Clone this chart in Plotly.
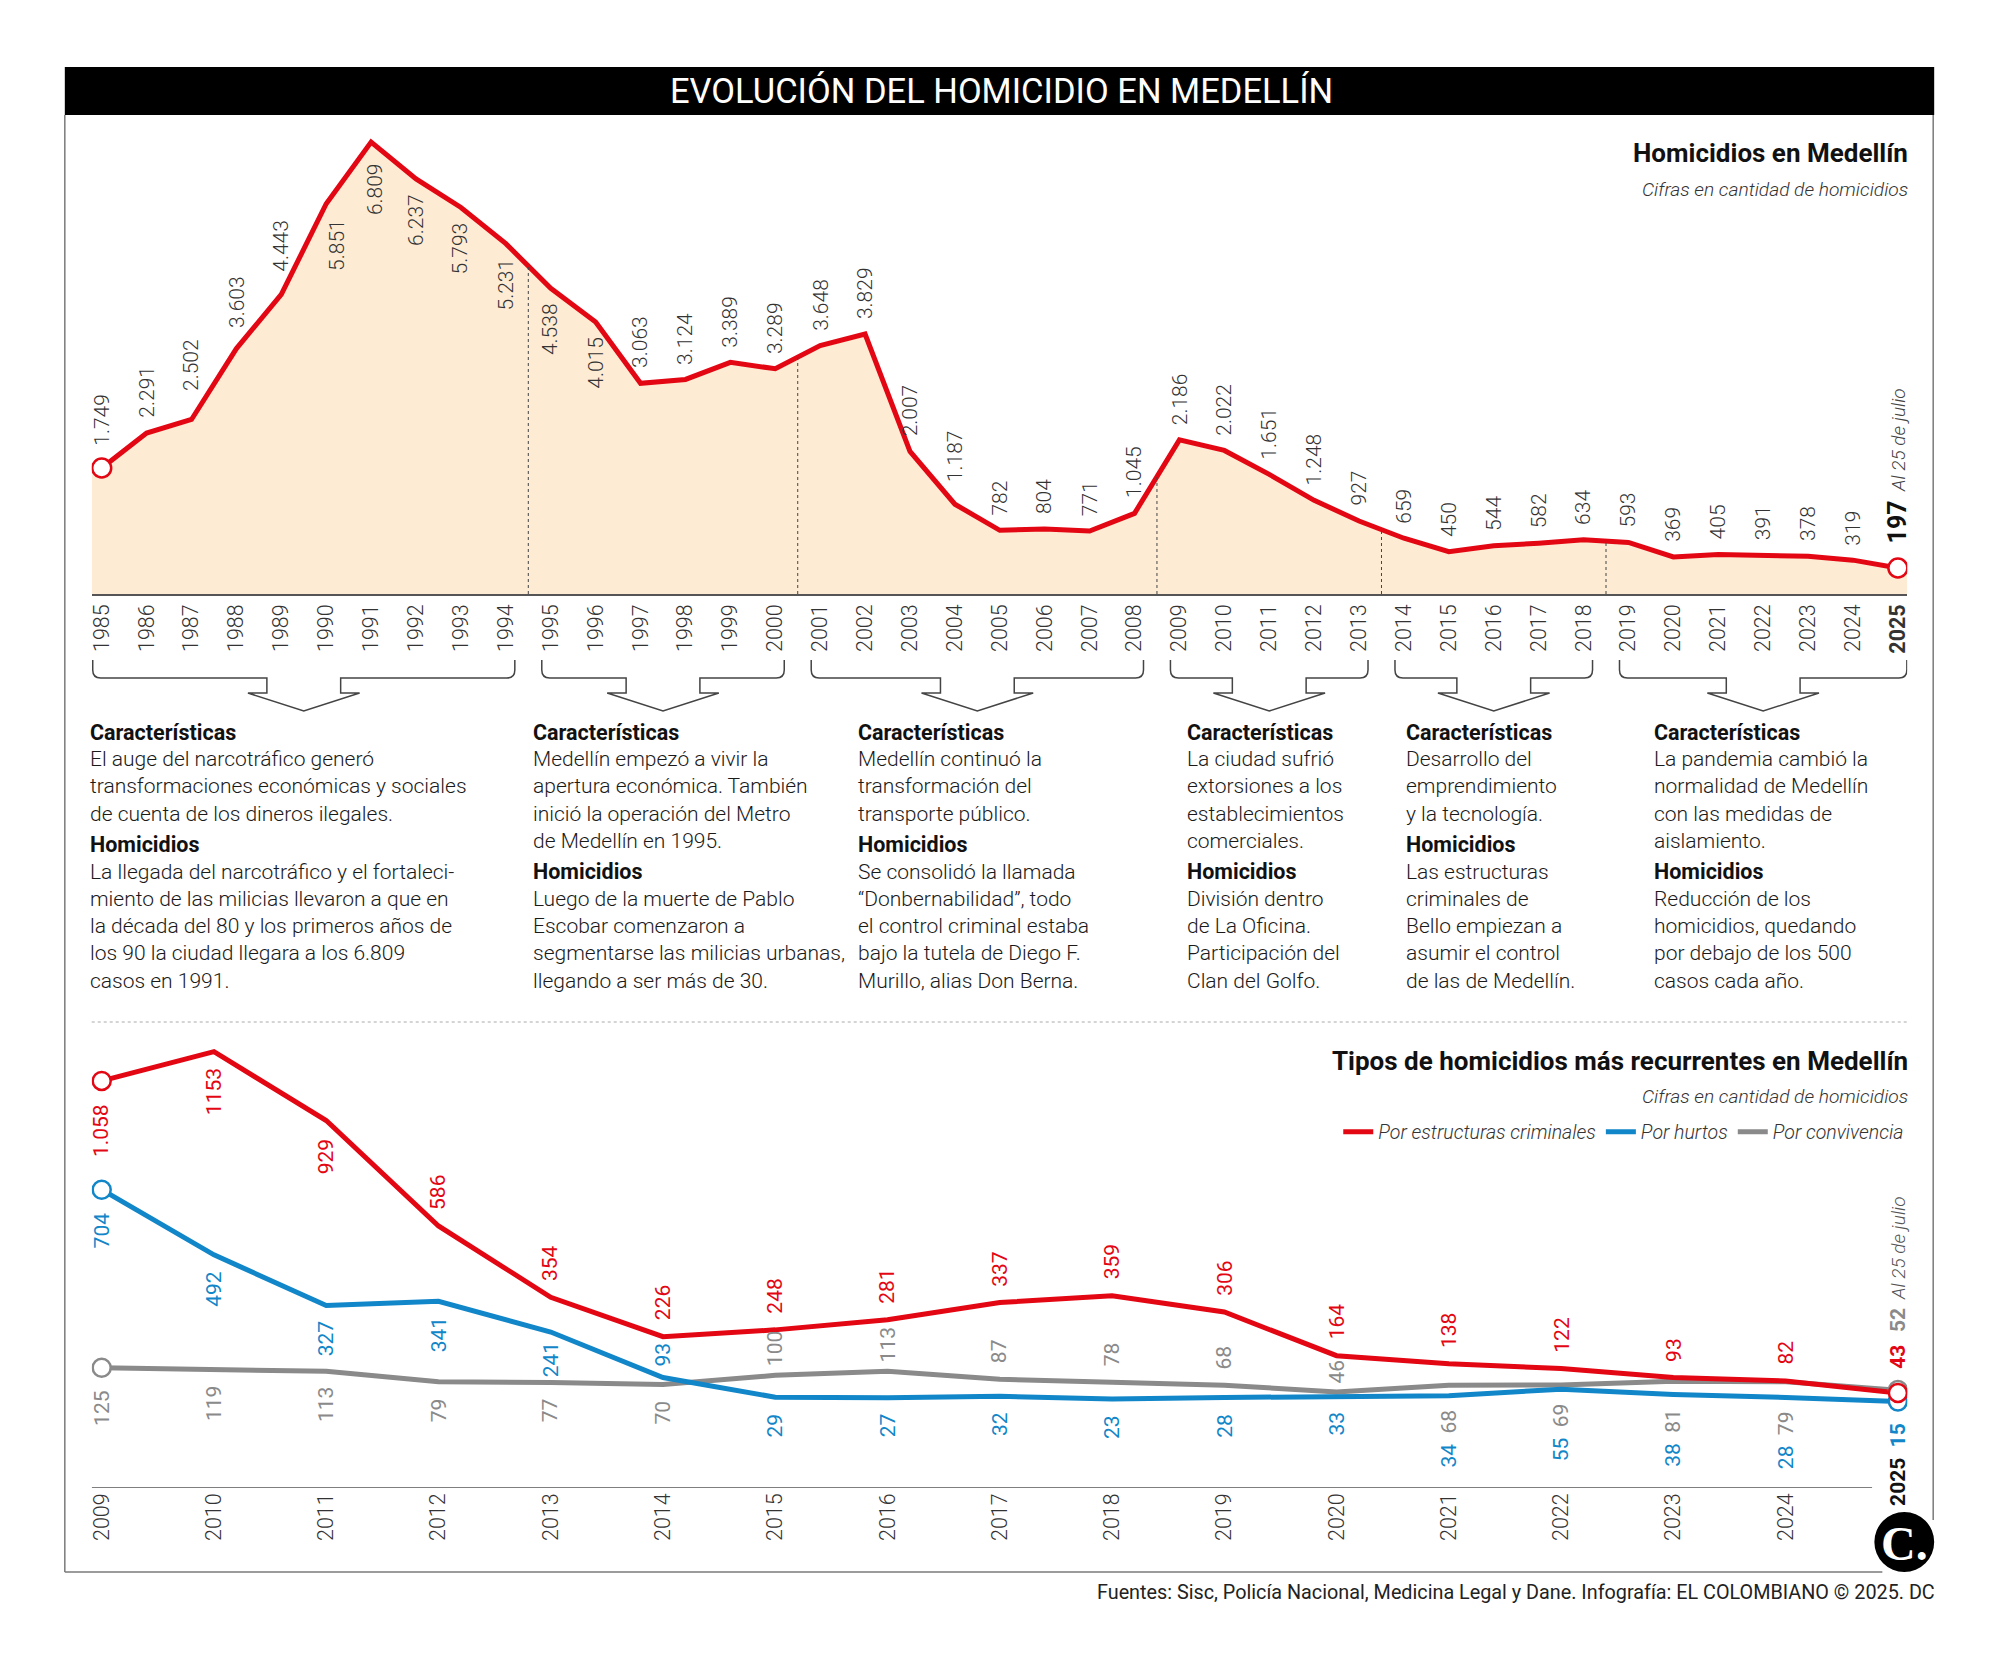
import plotly.graph_objects as go

W, H = 2000, 1666

# ---------------- data ----------------
years_top = list(range(1985, 2026))
homicidios = [1749, 2291, 2502, 3603, 4443, 5851, 6809, 6237, 5793, 5231,
              4538, 4015, 3063, 3124, 3389, 3289, 3648, 3829, 2007, 1187,
              782, 804, 771, 1045, 2186, 2022, 1651, 1248, 927, 659,
              450, 544, 582, 634, 593, 369, 405, 391, 378, 319, 197]
top_tick_text = [str(y) for y in years_top[:-1]] + ["<b>2025</b>"]

years_bottom = list(range(2009, 2026))
estructuras = [1058, 1153, 929, 586, 354, 226, 248, 281, 337, 359, 306, 164, 138, 122, 93, 82, 43]
hurtos = [704, 492, 327, 341, 241, 93, 29, 27, 32, 23, 28, 33, 34, 55, 38, 28, 15]
convivencia = [125, 119, 113, 79, 77, 70, 100, 113, 87, 78, 68, 46, 68, 69, 81, 79, 52]
bottom_tick_text = [str(y) for y in years_bottom[:-1]]
series_names = ["Por estructuras criminales", "Por hurtos", "Por convivencia"]

period_groups = [(1985, 1994), (1995, 2000), (2001, 2008), (2009, 2013), (2014, 2018), (2019, 2025)]

caracteristicas = [
    ["El auge del narcotráfico generó", "transformaciones económicas y sociales", "de cuenta de los dineros ilegales."],
    ["Medellín empezó a vivir la", "apertura económica. También", "inició la operación del Metro", "de Medellín en 1995."],
    ["Medellín continuó la", "transformación del", "transporte público."],
    ["La ciudad sufrió", "extorsiones a los", "establecimientos", "comerciales."],
    ["Desarrollo del", "emprendimiento", "y la tecnología."],
    ["La pandemia cambió la", "normalidad de Medellín", "con las medidas de", "aislamiento."],
]
homicidios_txt = [
    ["La llegada del narcotráfico y el fortaleci-", "miento de las milicias llevaron a que en",
     "la década del 80 y los primeros años de", "los 90 la ciudad llegara a los 6.809", "casos en 1991."],
    ["Luego de la muerte de Pablo", "Escobar comenzaron a", "segmentarse las milicias urbanas,", "llegando a ser más de 30."],
    ["Se consolidó la llamada", "“Donbernabilidad”, todo", "el control criminal estaba",
     "bajo la tutela de Diego F.", "Murillo, alias Don Berna."],
    ["División dentro", "de La Oficina.", "Participación del", "Clan del Golfo."],
    ["Las estructuras", "criminales de", "Bello empiezan a", "asumir el control", "de las de Medellín."],
    ["Reducción de los", "homicidios, quedando", "por debajo de los 500", "casos cada año."],
]

# ---------------- style ----------------
RED = "#e30613"
BLUE = "#1186c8"
GRAY = "#8a8a8a"
FILL = "#fdebd3"
INK = "#1a1a1a"
NUM = "#333333"
FRAME = "#7a7a7a"
FONT = "Roboto"
LBL = 21      # value label size
TICK = 21.5   # year tick size


def fx(p):
    return p / W


def fy(p):
    return 1 - p / H


# top chart geometry (pixels)
T_L, T_R, T_B, T_T = 89, 1910, 594, 120
T_X0PX, T_STEP = 99, 45.04
T_K, T_YMIN = 0.06443, -206.5
t_xr = [1985 - (T_X0PX - T_L) / T_STEP, 1985 + (T_R - T_X0PX) / T_STEP]
t_yr = [T_YMIN, T_YMIN + (T_B - T_T) / T_K]

# bottom chart geometry (pixels)
B_L, B_R, B_B, B_T = 89, 1910, 1488, 1040
B_X0PX, B_STEP = 99, 112.6
B_K, B_YMIN = 0.3074, -266.4
b_xr = [2009 - (B_X0PX - B_L) / B_STEP, 2009 + (B_R - B_X0PX) / B_STEP]
b_yr = [B_YMIN, B_YMIN + (B_B - B_T) / B_K]

fig = go.Figure()

# ---- top chart traces ----
x_ext = [t_xr[0]] + years_top + [t_xr[1]]
y_ext = [homicidios[0]] + homicidios + [homicidios[-1]]
fig.add_trace(go.Scatter(x=x_ext, y=[T_YMIN] * len(x_ext), mode="lines", line=dict(width=0),
                         hoverinfo="skip", showlegend=False, xaxis="x", yaxis="y"))
fig.add_trace(go.Scatter(x=x_ext, y=y_ext, mode="lines", line=dict(width=0), fill="tonexty",
                         fillcolor=FILL, hoverinfo="skip", showlegend=False, xaxis="x", yaxis="y"))
fig.add_trace(go.Scatter(x=years_top, y=homicidios, mode="lines", line=dict(color=RED, width=5),
                         showlegend=False, xaxis="x", yaxis="y"))
fig.add_trace(go.Scatter(x=[years_top[0], years_top[-1]], y=[homicidios[0], homicidios[-1]], mode="markers",
                         marker=dict(size=19, color="white", line=dict(color=RED, width=2.5)),
                         showlegend=False, xaxis="x", yaxis="y"))

# ---- bottom chart traces ----
bottom_series = [
    (series_names[2], convivencia, GRAY, 3),
    (series_names[1], hurtos, BLUE, 2),
    (series_names[0], estructuras, RED, 1),
]
for name, vals, color, rank in bottom_series:
    fig.add_trace(go.Scatter(x=years_bottom, y=vals, mode="lines", name=name, legendrank=rank,
                             line=dict(color=color, width=5), xaxis="x2", yaxis="y2"))
for name, vals, color, rank in bottom_series:
    fig.add_trace(go.Scatter(x=[years_bottom[0], years_bottom[-1]], y=[vals[0], vals[-1]], mode="markers",
                             marker=dict(size=18, color="white", line=dict(color=color, width=2.5)),
                             showlegend=False, xaxis="x2", yaxis="y2"))

# ---------------- annotations ----------------
ann = []


def add_text(x, y, text, size, color=INK, weight=400, style="normal", xanchor="left", yanchor="middle",
             xref="paper", yref="paper", angle=0, xshift=0, yshift=0, family=FONT):
    ann.append(dict(x=x, y=y, xref=xref, yref=yref, text=text, showarrow=False, xanchor=xanchor,
                    yanchor=yanchor, textangle=angle, xshift=xshift, yshift=yshift, borderpad=0,
                    font=dict(family=family, size=size, color=color, weight=weight, style=style)))


def fmt(v):
    return f"{v:,}".replace(",", ".")


# top value labels
TOP_BELOW = {1990, 1991, 1992, 1993, 1994, 1995, 1996}
TOP_GAP_EXTRA = {1985: 7, 1987: 13, 1988: 6, 1989: 8, 2004: 7, 1991: 6}
TOP_XSHIFT = {1990: 10, 1991: 4}
for yr, v in zip(years_top[:-1], homicidios[:-1]):
    below = yr in TOP_BELOW
    gap = 14 + TOP_GAP_EXTRA.get(yr, 0)
    add_text(yr, v, fmt(v), LBL, NUM, 300, xanchor="center", yanchor="top" if below else "bottom",
             xref="x", yref="y", angle=-90, yshift=-gap if below else gap, xshift=TOP_XSHIFT.get(yr, 0))
add_text(years_top[-1], homicidios[-1], fmt(homicidios[-1]), 25, "#111111", 700, xanchor="center",
         yanchor="bottom", xref="x", yref="y", angle=-90, yshift=24)
add_text(years_top[-1], homicidios[-1], "Al 25 de julio", 19, "#444444", 300, style="italic",
         xanchor="center", yanchor="bottom", xref="x", yref="y", angle=-90, yshift=75)

# bottom value labels
PLACES = {
    "red": "bbbaaaaaaaaaaaaa",
    "blue": "bbbbbabbbbbbssss",
    "gray": "bbbbbbaaaaaaffff",
}
GAP_OVERRIDE = {("red", 2009): 22, ("blue", 2009): 22, ("gray", 2009): 22, ("red", 2011): 18,
                ("gray", 2015): 8, ("gray", 2016): 8, ("gray", 2020): 7,
                ("blue", 2014): 10, ("blue", 2013): 9}
LABEL_OVERRIDE = {("red", 2010): "1153"}
series_map = {"red": (estructuras, RED), "blue": (hurtos, BLUE), "gray": (convivencia, GRAY)}
for key, (vals, color) in series_map.items():
    for i, yr in enumerate(years_bottom[:-1]):
        p = PLACES[key][i]
        text = LABEL_OVERRIDE.get((key, yr), fmt(vals[i]))
        anchor_val = vals[i]
        if p in "fs":
            anchor_val = min(convivencia[i], hurtos[i])
        gap = GAP_OVERRIDE.get((key, yr), 15)
        if p == "f":
            gap = 13
        if p == "s":
            gap = 47
        above = p == "a"
        add_text(yr, anchor_val, text, LBL, color, 400, xanchor="center",
                 yanchor="bottom" if above else "top", xref="x2", yref="y2", angle=-90,
                 yshift=gap if above else -gap)

# 2025 bottom stack
add_text(2025, estructuras[-1], fmt(estructuras[-1]), 21, RED, 700, xanchor="center", yanchor="bottom",
         xref="x2", yref="y2", angle=-90, yshift=23)
add_text(2025, convivencia[-1], fmt(convivencia[-1]), 21, GRAY, 700, xanchor="center", yanchor="bottom",
         xref="x2", yref="y2", angle=-90, yshift=57)
add_text(2025, convivencia[-1], "Al 25 de julio", 19, "#555555", 300, style="italic", xanchor="center",
         yanchor="bottom", xref="x2", yref="y2", angle=-90, yshift=89)
add_text(2025, hurtos[-1], fmt(hurtos[-1]), 21, BLUE, 700, xanchor="center", yanchor="top",
         xref="x2", yref="y2", angle=-90, yshift=-21)
add_text(2025, fy(1457), "2025", 21, "#111111", 700, xanchor="center", yanchor="top",
         xref="x2", yref="paper", angle=-90)

# titles
add_text(fx(1002), fy(91), "EVOLUCIÓN DEL HOMICIDIO EN MEDELLÍN", 34.5, "white", 400, xanchor="center")
add_text(fx(1912), fy(153), "Homicidios en Medellín", 26, "#111111", 700, xanchor="right")
add_text(fx(1912), fy(190), "Cifras en cantidad de homicidios", 19.2, "#333333", 300, style="italic", xanchor="right")
add_text(fx(1912), fy(1061), "Tipos de homicidios más recurrentes en Medellín", 26, "#111111", 700, xanchor="right")
add_text(fx(1912), fy(1096), "Cifras en cantidad de homicidios", 19.2, "#333333", 300, style="italic", xanchor="right")
add_text(fx(1939), fy(1592), "Fuentes: Sisc, Policía Nacional, Medicina Legal y Dane. Infografía: EL COLOMBIANO © 2025. DC",
         19.8, "#222222", 400, xanchor="right")
add_text(fx(1907), fy(1543), "C.", 48, "white", 700, xanchor="center", family="Liberation Serif")

# text blocks
BLOCK_X = [86, 531, 857, 1187, 1406, 1655]
for bx, car, hom in zip(BLOCK_X, caracteristicas, homicidios_txt):
    y = 732
    add_text(fx(bx), fy(y), "Características", 21.5, "#111111", 700)
    for line in car:
        y += 27.2
        add_text(fx(bx), fy(y), line, 21, INK, 300)
    y += 31
    add_text(fx(bx), fy(y), "Homicidios", 21.5, "#111111", 700)
    for line in hom:
        y += 27.2
        add_text(fx(bx), fy(y), line, 21, INK, 300)

# ---------------- shapes ----------------
shapes = []
shapes.append(dict(type="rect", xref="paper", yref="paper", x0=fx(62), x1=fx(1937), y0=fy(115), y1=fy(67),
                   fillcolor="black", line=dict(width=0), layer="below"))
for (x0, y0, x1, y1) in [(62, 115, 62, 1572), (62, 1572, 1885, 1572), (1936, 115, 1936, 1520)]:
    shapes.append(dict(type="line", xref="paper", yref="paper", x0=fx(x0), y0=fy(y0), x1=fx(x1), y1=fy(y1),
                       line=dict(color=FRAME, width=1.5)))
shapes.append(dict(type="line", xref="paper", yref="paper", x0=fx(89), x1=fx(1910), y0=fy(1022), y1=fy(1022),
                   line=dict(color="#aaaaaa", width=1, dash="dot")))
shapes.append(dict(type="line", xref="x2", yref="y2", x0=b_xr[0], x1=years_bottom[-2] + 0.77,
                   y0=B_YMIN, y1=B_YMIN, line=dict(color="#555555", width=1.5)))
for (s, e) in period_groups[1:]:
    i = years_top.index(s)
    shapes.append(dict(type="line", xref="x", yref="y", x0=s - 0.5, x1=s - 0.5, y0=T_YMIN,
                       y1=(homicidios[i - 1] + homicidios[i]) / 2,
                       line=dict(color="#444444", width=1, dash="dot"), layer="above"))


def bracket_path(s, e):
    pad = 9 / T_STEP
    xl, xr = s - pad, e + pad
    xc = (xl + xr) / 2
    r = 8 / T_STEP
    a_in, a_out = 37 / T_STEP, 56 / T_STEP
    yt, yc, yh, ys, ytip = fy(660), fy(670), fy(678), fy(693), fy(711)
    return (f"M {xl},{yt} L {xl},{yc} Q {xl},{yh} {xl + r},{yh} L {xc - a_in},{yh} L {xc - a_in},{ys} "
            f"L {xc - a_out},{ys} L {xc},{ytip} L {xc + a_out},{ys} L {xc + a_in},{ys} L {xc + a_in},{yh} "
            f"L {xr - r},{yh} Q {xr},{yh} {xr},{yc} L {xr},{yt}")


for (s, e) in period_groups:
    shapes.append(dict(type="path", xref="x", yref="paper", path=bracket_path(s, e),
                       line=dict(color="#444444", width=1.5), fillcolor="rgba(0,0,0,0)"))

shapes.append(dict(type="circle", xref="paper", yref="paper", x0=fx(1877), x1=fx(1937), y0=fy(1572),
                   y1=fy(1512), fillcolor="black", line=dict(width=0), layer="above"))

# ---------------- layout ----------------
fig.update_layout(
    width=W, height=H, margin=dict(l=0, r=0, t=0, b=0),
    paper_bgcolor="white", plot_bgcolor="rgba(0,0,0,0)",
    hovermode=False,
    showlegend=True,
    legend=dict(orientation="h", x=fx(1912), xanchor="right", y=fy(1132), yanchor="middle",
                font=dict(family=FONT, size=19.5, style="italic", weight=300, color="#333333"),
                bgcolor="rgba(0,0,0,0)", itemwidth=30, traceorder="normal"),
    xaxis=dict(domain=[fx(T_L), fx(T_R)], range=t_xr, tickmode="array", tickvals=years_top,
               ticktext=top_tick_text, tickangle=-90, ticks="", ticklabelstandoff=0,
               tickfont=dict(family=FONT, size=TICK, color=NUM, weight=300),
               showgrid=False, zeroline=False, showline=True, linecolor="#555555", linewidth=1.5,
               anchor="y", fixedrange=True),
    yaxis=dict(domain=[fy(T_B), fy(T_T)], range=t_yr, visible=False, anchor="x", fixedrange=True),
    xaxis2=dict(domain=[fx(B_L), fx(B_R)], range=b_xr, tickmode="array", tickvals=years_bottom[:-1],
                ticktext=bottom_tick_text, tickangle=-90, ticks="", ticklabelstandoff=0,
                tickfont=dict(family=FONT, size=TICK, color=NUM, weight=300),
                showgrid=False, zeroline=False, showline=False, anchor="y2", fixedrange=True),
    yaxis2=dict(domain=[fy(B_B), fy(B_T)], range=b_yr, visible=False, anchor="x2", fixedrange=True),
    annotations=ann,
    shapes=shapes,
)

fig.write_html("out.html", config={"displayModeBar": False},
               post_script="document.body.style.margin='0';document.body.style.overflow='hidden';")
